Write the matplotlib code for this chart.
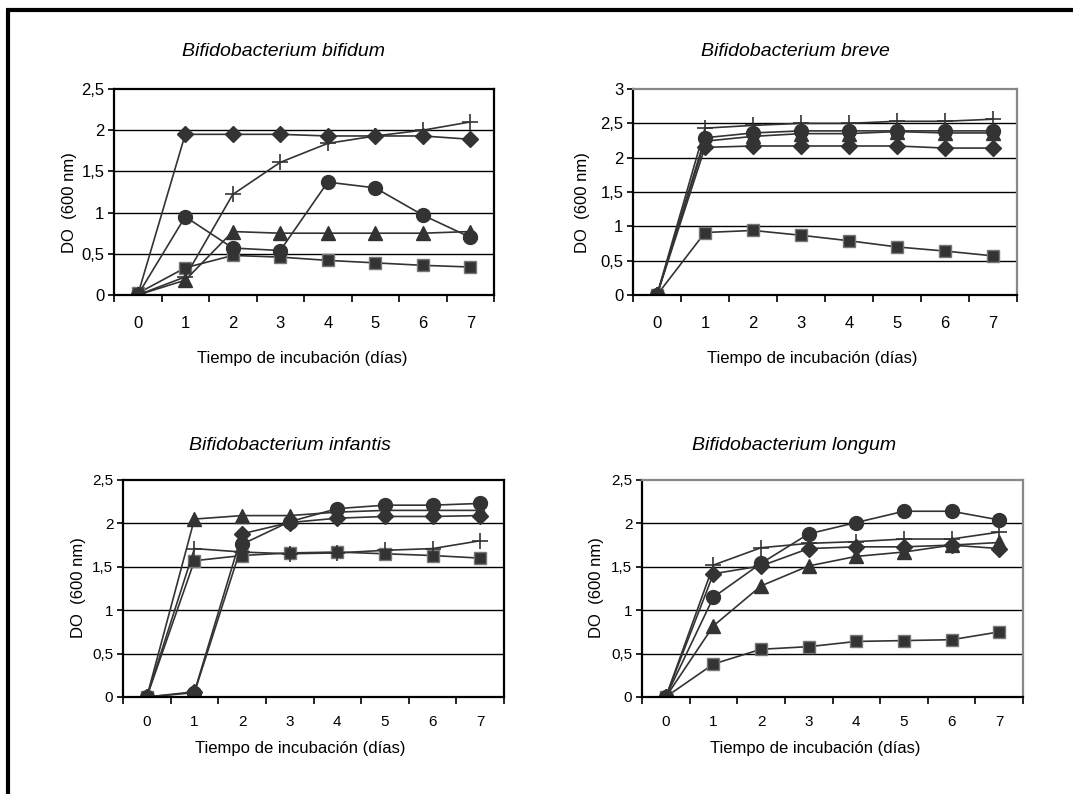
import matplotlib
matplotlib.use("Agg")
import matplotlib.pyplot as plt
from matplotlib.lines import Line2D

plt.rcParams['font.family'] = ['Liberation Sans', 'DejaVu Sans']

# incubation days
days = [0, 1, 2, 3, 4, 5, 6, 7]

# B. bifidum
bif_diamond = [0.0, 1.95, 1.95, 1.95, 1.93, 1.93, 1.93, 1.89]
bif_plus = [0.0, 0.22, 1.22, 1.61, 1.84, 1.93, 2.0, 2.1]
bif_circle = [0.0, 0.95, 0.57, 0.54, 1.37, 1.30, 0.97, 0.70]
bif_triangle = [0.0, 0.18, 0.77, 0.75, 0.75, 0.75, 0.75, 0.77]
bif_square = [0.02, 0.33, 0.48, 0.46, 0.42, 0.39, 0.36, 0.34]

# B. breve
brv_diamond = [0.0, 2.15, 2.17, 2.17, 2.17, 2.17, 2.14, 2.14]
brv_plus = [0.0, 2.43, 2.47, 2.5, 2.5, 2.53, 2.53, 2.56]
brv_circle = [0.0, 2.29, 2.36, 2.39, 2.39, 2.39, 2.39, 2.39]
brv_triangle = [0.0, 2.24, 2.31, 2.35, 2.35, 2.38, 2.36, 2.36]
brv_square = [0.0, 0.91, 0.94, 0.87, 0.79, 0.70, 0.64, 0.57]

# B. infantis
inf_diamond = [0.0, 0.06, 1.88, 2.01, 2.06, 2.08, 2.08, 2.09]
inf_plus = [0.0, 1.71, 1.67, 1.65, 1.66, 1.69, 1.71, 1.80]
inf_circle = [0.0, 0.05, 1.76, 2.02, 2.17, 2.21, 2.21, 2.23]
inf_triangle = [0.0, 2.05, 2.09, 2.09, 2.13, 2.15, 2.15, 2.15]
inf_square = [0.0, 1.57, 1.63, 1.66, 1.67, 1.65, 1.63, 1.60]

# B. longum
lon_diamond = [0.0, 1.42, 1.51, 1.71, 1.73, 1.73, 1.75, 1.71]
lon_plus = [0.0, 1.52, 1.72, 1.77, 1.79, 1.82, 1.82, 1.90]
lon_circle = [0.0, 1.15, 1.54, 1.88, 2.01, 2.14, 2.14, 2.04]
lon_triangle = [0.0, 0.82, 1.28, 1.51, 1.62, 1.67, 1.75, 1.78]
lon_square = [0.0, 0.38, 0.55, 0.58, 0.64, 0.65, 0.66, 0.75]

titles = ["Bifidobacterium bifidum", "Bifidobacterium breve",
          "Bifidobacterium infantis", "Bifidobacterium longum"]
ylabel = "DO  (600 nm)"
xlabel = "Tiempo de incubación (días)"
yticks_25 = [0, 0.5, 1, 1.5, 2, 2.5]
yticklabels_25 = ["0", "0,5", "1", "1,5", "2", "2,5"]
yticks_3 = [0, 0.5, 1, 1.5, 2, 2.5, 3]
yticklabels_3 = ["0", "0,5", "1", "1,5", "2", "2,5", "3"]

W, H = 1073, 794
fig = plt.figure(figsize=(W / 100, H / 100), dpi=100)

def px_axes(left, right, top, bottom):
    return fig.add_axes([left / W, 1 - bottom / H, (right - left) / W, (bottom - top) / H])

dark = '#333333'

def draw_panel(ax, series, yticks, yticklabels, frame_color, xpad, lsize):
    # order: square, triangle, circle, diamond, plus
    styles = [('s', 9, 1.0), ('^', 10.5, 0), ('o', 10, 0), ('D', 8, 0), ('+', 12, 1.2)]
    for ys, (m, ms, mew) in zip(series, styles):
        if m == '+':
            ax.plot(days, ys, color=dark, lw=1.2, marker=m, ms=ms, mew=mew, mec=dark, zorder=3)
        elif m == 's':
            ax.plot(days, ys, color=dark, lw=1.2, marker=m, ms=ms, mfc=dark, mec='#777777',
                    mew=mew, zorder=3)
        else:
            ax.plot(days, ys, color=dark, lw=1.2, marker=m, ms=ms, mfc=dark, mec=dark, zorder=3)
    ax.set_xlim(-0.5, 7.5)
    ax.set_ylim(0, yticks[-1])
    ax.set_yticks(yticks)
    ax.set_yticklabels(yticklabels)
    ax.set_xticks([x - 0.5 for x in days] + [7.5])
    ax.set_xticklabels([])
    ax.set_xticks(days, minor=True)
    ax.set_xticklabels([str(d) for d in days], minor=True)
    ax.tick_params(axis='x', which='minor', length=0, pad=xpad, labelsize=lsize)
    ax.tick_params(axis='x', which='major', length=5, width=1.2, direction='out')
    ax.tick_params(axis='y', length=4, width=1.2, direction='out', labelsize=lsize, pad=3)
    for y in yticks[1:-1]:
        ax.axhline(y, color='black', lw=1.0, zorder=1)
    ax.spines['left'].set_linewidth(1.6)
    ax.spines['bottom'].set_linewidth(1.6)
    ax.spines['top'].set_color(frame_color)
    ax.spines['right'].set_color(frame_color)
    ax.spines['top'].set_linewidth(1.6)
    ax.spines['right'].set_linewidth(1.6)
    for sp in ax.spines.values():
        sp.set_zorder(4)

ax1 = px_axes(114, 494, 89, 295)
draw_panel(ax1, [bif_square, bif_triangle, bif_circle, bif_diamond, bif_plus],
           yticks_25, yticklabels_25, 'black', 15, 12)
ax2 = px_axes(633, 1017, 89, 295)
draw_panel(ax2, [brv_square, brv_triangle, brv_circle, brv_diamond, brv_plus],
           yticks_3, yticklabels_3, '#888888', 15, 12)
ax3 = px_axes(123, 504, 480, 697)
draw_panel(ax3, [inf_square, inf_triangle, inf_circle, inf_diamond, inf_plus],
           yticks_25, yticklabels_25, 'black', 13, 11)
ax4 = px_axes(642, 1023, 480, 697)
draw_panel(ax4, [lon_square, lon_triangle, lon_circle, lon_diamond, lon_plus],
           yticks_25, yticklabels_25, '#888888', 13, 11)

# titles, axis labels placed in pixel coordinates
title_pos = [(283, 52), (795, 52), (290, 445), (794, 445)]
ylab_pos = [(70, 203), (582, 203), (78, 588), (597, 588)]
xlab_pos = [(302, 358), (812, 358), (300, 749), (815, 749)]
for t, (tx, ty), (yx, yy), (xx, xy) in zip(titles, title_pos, ylab_pos, xlab_pos):
    fig.text(tx / W, 1 - ty / H, t, style='italic', fontsize=14, ha='center', va='center')
    fig.text(yx / W, 1 - yy / H, ylabel, rotation=90, fontsize=12, ha='center', va='center')
    fig.text(xx / W, 1 - xy / H, xlabel, fontsize=12, ha='center', va='center')

# outer frame (left and top edges only)
fig.add_artist(Line2D([7.5 / W, 7.5 / W], [0, 1 - 9.5 / H], color='black', lw=3,
                      transform=fig.transFigure, solid_capstyle='butt'))
fig.add_artist(Line2D([6 / W, 1], [1 - 9.5 / H, 1 - 9.5 / H], color='black', lw=3,
                      transform=fig.transFigure, solid_capstyle='butt'))

fig.savefig("out.png", dpi=100)
